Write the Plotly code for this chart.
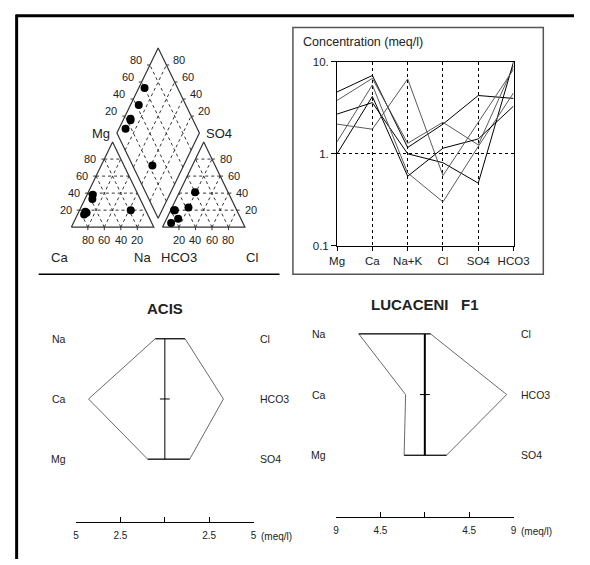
import plotly.graph_objects as go

W, H = 590, 565
FONT = "Liberation Sans, Arial, sans-serif"
TXT = "#222"


def px(x):
    return x / W


def py(y):
    return 1 - y / H


# ---------------- DATA ----------------
# Schoeller diagram (meq/l)
ions = ["Mg", "Ca", "Na+K", "Cl", "SO4", "HCO3"]
s1 = [4.7, 7.1, 1.17, 2.1, 4.3, 4.0]
s2 = [3.8, 6.6, 1.3, 2.2, 1.25, 9.0]
s3 = [2.7, 3.6, 1.0, 0.8, 0.48, 10.0]
s4 = [1.35, 5.6, 0.62, 0.3, 1.2, 4.6]
s5 = [1.0, 4.2, 0.57, 1.15, 1.45, 3.3]
s6 = [2.1, 1.85, 6.5, 0.58, 2.2, 8.3]
schoeller_series = [s1, s2, s3, s4, s5, s6]
schoeller_colors = ["#000000", "#5a5a5a", "#000000", "#5a5a5a", "#000000", "#5a5a5a"]

# Piper diagram (% of meq)
piper_ca = [55, 58, 77, 74, 73, 18]
piper_mg = [38, 33, 15, 18, 17, 20]
piper_na = [7, 9, 8, 8, 10, 62]
piper_hco3 = [40, 76, 87, 75, 57, 76]
piper_so4 = [41, 10, 5, 20, 23, 20]
piper_cl = [19, 14, 8, 5, 20, 4]
piper_ticks = [20, 40, 60, 80]

# Stiff diagrams (meq/l)
stiff_cations = ["Na", "Ca", "Mg"]
stiff_anions = ["Cl", "HCO3", "SO4"]
acis_cat = [0.54, 4.3, 0.97]
acis_an = [1.14, 3.3, 1.4]
acis_scale = [-5, -2.5, 0, 2.5, 5]
luc_cat = [6.7, 1.95, 2.1]
luc_an = [0.58, 8.3, 2.2]
luc_scale = [-9, -4.5, 0, 4.5, 9]

# ---------------- PIPER GEOMETRY ----------------
G = 0.105           # gap between triangles
OFF = 1 + G         # x offset of anion triangle
BX, BY = 1 + G / 2, G   # bottom vertex of diamond
U = (-0.5, 1.0)     # diamond edge direction (towards Ca+Mg)
V = (0.5, 1.0)      # diamond edge direction (towards SO4+Cl)


def cat_xy(ca, mg, na):
    return na / 100 + mg / 200, mg / 100


def an_xy(hco3, so4, cl):
    return OFF + cl / 100 + so4 / 200, so4 / 100


def dia_xy(na, so4, cl):
    s = 1 - na / 100
    t = (so4 + cl) / 100
    return BX + s * U[0] + t * V[0], BY + s * U[1] + t * V[1]


fig = go.Figure()

# triangle and diamond outlines
outline_x, outline_y = [], []
for off in (0, OFF):
    outline_x += [off, off + 1, off + 0.5, off, None]
    outline_y += [0, 0, 1, 0, None]
outline_x += [BX, BX + V[0], BX + U[0] + V[0], BX + U[0], BX, None]
outline_y += [BY, BY + V[1], BY + U[1] + V[1], BY + U[1], BY, None]

# dashed grid
gx, gy = [], []
for off in (0, OFF):
    for t in piper_ticks:
        f = t / 100
        gx += [off + f / 2, off + 1 - f / 2, None]
        gy += [f, f, None]
        gx += [off + f, off + f + (1 - f) / 2, None]
        gy += [0, 1 - f, None]
        gx += [off + 1 - f, off + (1 - f) / 2, None]
        gy += [0, 1 - f, None]
for t in piper_ticks:
    f = t / 100
    sx, sy = BX + f * U[0], BY + f * U[1]
    gx += [sx, sx + V[0], None]
    gy += [sy, sy + V[1], None]
    sx, sy = BX + f * V[0], BY + f * V[1]
    gx += [sx, sx + U[0], None]
    gy += [sy, sy + U[1], None]

# small ticks on edges
TL = 0.035
tx, ty = [], []
for t in piper_ticks:
    f = t / 100
    for off in (0, OFF):
        tx += [off + f, off + f, None]
        ty += [0, -TL, None]
    tx += [f / 2, f / 2 - TL, None]
    ty += [f, f, None]
    tx += [OFF + 1 - f / 2, OFF + 1 - f / 2 + TL, None]
    ty += [f, f, None]
    lx, ly = BX + U[0] + f * V[0], BY + U[1] + f * V[1]
    tx += [lx, lx - TL, None]
    ty += [ly, ly, None]
    rx, ry = BX + V[0] + f * U[0], BY + V[1] + f * U[1]
    tx += [rx, rx + TL, None]
    ty += [ry, ry, None]

fig.add_trace(go.Scatter(x=gx, y=gy, mode="lines", xaxis="x", yaxis="y",
                         line=dict(color="#333", width=1, dash="3px,3px"),
                         hoverinfo="skip"))
fig.add_trace(go.Scatter(x=outline_x, y=outline_y, mode="lines", xaxis="x", yaxis="y",
                         line=dict(color="#333", width=1.2), hoverinfo="skip"))
fig.add_trace(go.Scatter(x=tx, y=ty, mode="lines", xaxis="x", yaxis="y",
                         line=dict(color="#333", width=1), hoverinfo="skip"))

pxs, pys = [], []
for ca, mg, na, hc, so, cl in zip(piper_ca, piper_mg, piper_na, piper_hco3, piper_so4, piper_cl):
    for (xx, yy) in (cat_xy(ca, mg, na), an_xy(hc, so, cl), dia_xy(na, so, cl)):
        pxs.append(xx)
        pys.append(yy)
fig.add_trace(go.Scatter(x=pxs, y=pys, mode="markers", xaxis="x", yaxis="y",
                         marker=dict(color="black", size=8), hoverinfo="skip"))

annotations = []


def ann(text, x, y, xref, yref, size=11, xanchor="center", yanchor="middle",
        xshift=0, yshift=0, bold=False):
    annotations.append(dict(
        text=("<b>%s</b>" % text) if bold else text, x=x, y=y, xref=xref, yref=yref,
        showarrow=False, xanchor=xanchor, yanchor=yanchor, xshift=xshift, yshift=yshift,
        font=dict(family=FONT, size=size, color=TXT)))


for t in piper_ticks:
    f = t / 100
    ann(str(t), 1 - f, 0, "x", "y", yanchor="top", yshift=-5)
    ann(str(t), OFF + f, 0, "x", "y", yanchor="top", yshift=-5)
    ann(str(t), f / 2, f, "x", "y", xanchor="right", xshift=-6)
    ann(str(t), OFF + 1 - f / 2, f, "x", "y", xanchor="left", xshift=6)
    ann(str(t), BX + U[0] + f * V[0], BY + U[1] + f * V[1], "x", "y",
        xanchor="right", xshift=-6, yshift=5)
    ann(str(t), BX + V[0] + f * U[0], BY + V[1] + f * U[1], "x", "y",
        xanchor="left", xshift=5, yshift=5)

ann("Mg", BX + U[0], BY + U[1], "x", "y", size=13, xanchor="right", xshift=-5)
ann("SO4", BX + V[0], BY + V[1], "x", "y", size=13, xanchor="left", xshift=5)
ann("Ca", 0, 0, "x", "y", size=13, xshift=-12, yshift=-30)
ann("Na", 1, 0, "x", "y", size=13, xshift=-11, yshift=-30)
ann("HCO3", OFF, 0, "x", "y", size=13, xshift=17, yshift=-30)
ann("Cl", OFF + 1, 0, "x", "y", size=13, xshift=7, yshift=-30)

# ---------------- SCHOELLER ----------------
for vals, col in zip(schoeller_series, schoeller_colors):
    fig.add_trace(go.Scatter(x=ions, y=vals, mode="lines", xaxis="x2", yaxis="y2",
                             line=dict(color=col, width=1), hoverinfo="skip"))
ann("Concentration (meq/l)", px(305), py(37), "paper", "paper", size=12.5, xanchor="left")

# ---------------- STIFF ----------------


def stiff(cat, an, xa, ya, center_w):
    xs = [-cat[0], -cat[1], -cat[2], an[2], an[1], an[0], -cat[0]]
    ys = [0, 1, 2, 2, 1, 0, 0]
    fig.add_trace(go.Scatter(x=xs, y=ys, mode="lines", xaxis=xa, yaxis=ya,
                             line=dict(color="#6a6a6a", width=1), hoverinfo="skip"))
    fig.add_trace(go.Scatter(x=[-cat[0], an[0], None, -cat[2], an[2]],
                             y=[0, 0, None, 2, 2], mode="lines", xaxis=xa, yaxis=ya,
                             line=dict(color="black", width=1), hoverinfo="skip"))
    fig.add_trace(go.Scatter(x=[0, 0], y=[0, 2], mode="lines", xaxis=xa, yaxis=ya,
                             line=dict(color="black", width=center_w), hoverinfo="skip"))
    fig.add_trace(go.Scatter(x=[0], y=[1], mode="markers", xaxis=xa, yaxis=ya,
                             marker=dict(symbol="line-ew", size=7,
                                         line=dict(color="black", width=1)),
                             hoverinfo="skip"))


stiff(acis_cat, acis_an, "x3", "y3", 1)
stiff(luc_cat, luc_an, "x4", "y4", 2)

for i in range(3):
    ann(stiff_cations[i], 0, i, "x3 domain", "y3", size=10.5, xanchor="right", xshift=-8)
    ann(stiff_anions[i], 1, i, "x3 domain", "y3", size=10.5, xanchor="left", xshift=4)
    ann(stiff_cations[i], 0, i, "x4 domain", "y4", size=10.5, xanchor="right", xshift=-8)
    ann(stiff_anions[i], 1, i, "x4 domain", "y4", size=10.5, xanchor="left", xshift=5)

ann("ACIS", 0, py(309), "x3", "paper", size=15, bold=True)
ann("LUCACENI\u00a0\u00a0\u00a0F1", 0, py(305), "x4", "paper", size=15, bold=True)
ann("(meq/l)", acis_scale[-1], 0, "x3", "y3 domain", size=10, xanchor="left",
    xshift=5, yshift=-15)
ann("(meq/l)", luc_scale[-1], 0, "x4", "y4 domain", size=10, xanchor="left",
    xshift=5, yshift=-15)


def fmt(v):
    if v == 0:
        return ""
    a = abs(v)
    return ("%g" % a)


stiff_x_common = dict(showline=True, linecolor="black", linewidth=1, ticks="inside",
                      ticklen=5, tickcolor="black", showgrid=False, zeroline=False,
                      ticklabelstandoff=4, tickfont=dict(family=FONT, size=10, color=TXT),
                      fixedrange=True)

# ---------------- LAYOUT ----------------
shapes = [
    dict(type="line", xref="paper", yref="paper", x0=px(8), x1=1, y0=py(10), y1=py(10),
         line=dict(color="black", width=3)),
    dict(type="line", xref="paper", yref="paper", x0=px(9), x1=px(9), y0=py(9), y1=0,
         line=dict(color="black", width=3)),
    dict(type="rect", xref="paper", yref="paper", x0=px(297), x1=px(558), y0=py(274),
         y1=py(22), line=dict(color="#555", width=1.5)),
    dict(type="line", xref="paper", yref="paper", x0=px(32), x1=px(283), y0=py(274),
         y1=py(274), line=dict(color="black", width=1.5)),
]

fig.update_layout(
    autosize=True, margin=dict(l=0, r=0, t=0, b=0),
    paper_bgcolor="white", plot_bgcolor="rgba(0,0,0,0)", showlegend=False,
    font=dict(family=FONT, size=11, color=TXT),
    xaxis=dict(domain=[px(20), px(292)], range=[(20 - 66) / 86, (292 - 66) / 86],
               visible=False, fixedrange=True),
    yaxis=dict(domain=[py(270), py(25)], range=[(226 - 270) / 87, (226 - 25) / 87],
               visible=False, fixedrange=True),
    xaxis2=dict(domain=[px(343), px(527)], anchor="y2", type="category",
                categoryorder="array", categoryarray=ions, range=[0, 5],
                showline=True, mirror=True, linecolor="black", linewidth=1,
                ticks="outside", ticklen=4, tickcolor="black",
                showgrid=True, gridcolor="black", gridwidth=1, griddash="3px,3px",
                zeroline=False, tickfont=dict(family=FONT, size=11.5, color=TXT),
                fixedrange=True),
    yaxis2=dict(domain=[py(245), py(57)], anchor="x2", type="log", range=[-1, 1],
                tickvals=[0.1, 1, 10], ticktext=["0.1", "1.", "10."],
                showline=True, mirror=True, linecolor="black", linewidth=1,
                ticks="outside", ticklen=5, tickcolor="black",
                showgrid=True, gridcolor="black", gridwidth=1, griddash="3px,3px",
                zeroline=False, tickfont=dict(family=FONT, size=11.5, color=TXT),
                fixedrange=True),
    xaxis3=dict(domain=[px(71), px(256)], anchor="y3", range=[acis_scale[0], acis_scale[-1]],
                tickvals=acis_scale, ticktext=[fmt(v) for v in acis_scale], **stiff_x_common),
    yaxis3=dict(domain=[py(527), py(318)], anchor="x3",
                range=[(527 - 340) / 61.5, (318 - 340) / 61.5], visible=False,
                fixedrange=True),
    xaxis4=dict(domain=[px(342), px(527)], anchor="y4", range=[luc_scale[0], luc_scale[-1]],
                tickvals=luc_scale, ticktext=[fmt(v) for v in luc_scale], **stiff_x_common),
    yaxis4=dict(domain=[py(522), py(314)], anchor="x4",
                range=[(522 - 335) / 62, (314 - 335) / 62], visible=False,
                fixedrange=True),
    shapes=shapes,
    annotations=annotations,
)

post = ("document.documentElement.style.margin='0';document.documentElement.style.padding='0';"
        "document.body.style.margin='0';document.body.style.padding='0';"
        "document.body.style.overflow='hidden';document.documentElement.style.overflow='hidden';"
        "window.dispatchEvent(new Event('resize'));")
fig.write_html("out.html", config={"displayModeBar": False, "responsive": True},
               post_script=post, default_width="100vw", default_height="100vh")
